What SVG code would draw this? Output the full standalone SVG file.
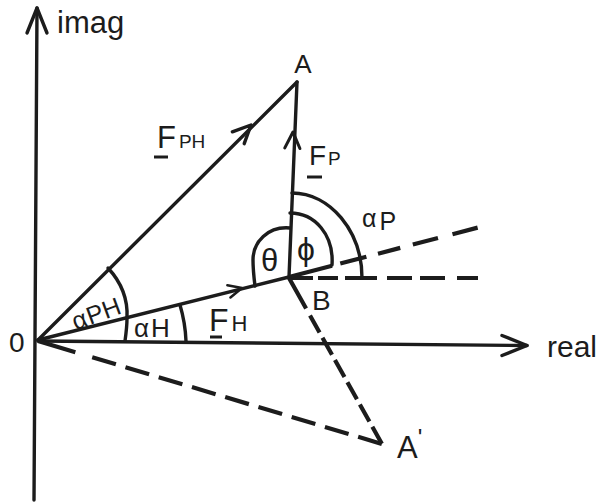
<svg xmlns="http://www.w3.org/2000/svg" width="604" height="502" viewBox="0 0 604 502">
<style>
.ln{fill:none;stroke:#1c1c1c;stroke-width:3.4;stroke-linecap:round;stroke-linejoin:round}
.ds{fill:none;stroke:#1c1c1c;stroke-width:4.2}
.t{font-family:"Liberation Sans",Arial,sans-serif;fill:#1c1c1c}
.ul{stroke:#1c1c1c;stroke-width:3}
</style>
<defs>
<path id="chev" d="M-18,-8.4 L0,0 L-18,8.4" class="ln"/>
<path id="axhead" d="M-25,-10 L0,0 L-25,10" class="ln"/>
</defs>
<rect width="604" height="502" fill="#fff"/>

<g id="axes">
<line class="ln" x1="37" y1="8" x2="34" y2="500"/>
<use href="#axhead" transform="translate(37,8) rotate(-90)"/>
<line class="ln" x1="38" y1="341" x2="527" y2="345.5"/>
<use href="#axhead" transform="translate(527,345.5)"/>
<text class="t" x="57" y="33" font-size="31">imag</text>
<text class="t" x="547" y="357" font-size="30">real</text>
<text class="t" x="9" y="352" font-size="28">0</text>
</g>

<g id="connectors">
<line id="FPH" class="ln" x1="38" y1="340" x2="297" y2="82"/>
<use href="#chev" transform="translate(251,125) rotate(-45)"/>
<line id="FP" class="ln" x1="289" y1="277" x2="297" y2="82"/>
<use href="#chev" transform="translate(293,132) rotate(-87.7) scale(0.9)"/>
<line id="FH" class="ln" x1="38" y1="340" x2="289" y2="277"/>
<use href="#chev" transform="translate(242,288) rotate(-14.1) scale(0.75)"/>
<path class="ds" d="M289,278 L478,278" stroke-dasharray="24 5 20 7 32 10 25 8 25 12 21"/>
<path class="ds" d="M289,277 L478,227.5" stroke-dasharray="44.5 8.5 27 12 23 13 26 15 26"/>
<path class="ds" d="M289,278 L382,444" stroke-dasharray="35 8 19.5 6 19.5 6 19.5 6 19.5 6 19.5 6 19.5"/>
<path class="ds" d="M38,341 L382,444" stroke-dasharray="39 17.6 24.7 10 24.7 10 24.7 10 24.7 10 24.7 10 24.7 10 24.7 10 24.7 10 24.7"/>
</g>

<g id="angles">
<path class="ln" d="M108,268 C121,282 128,300 127,318 C127,327 126,334 125,341"/>
<path class="ln" d="M180,305 A147,147 0 0 1 186,341"/>
<path class="ln" d="M290,228 C268,226 253,242 253,260 C253,270 254,278 255,286"/>
<path class="ln" d="M290,213 C315,213 334,235 332,265"/>
<path class="ln" d="M292,193 C330,193 362,231 362,278"/>
</g>

<g id="labels">
<text class="t" x="303" y="73" font-size="26" text-anchor="middle">A</text>
<text class="t" x="397" y="458" font-size="31">A<tspan dy="-12" font-size="24">'</tspan></text>
<text class="t" x="312" y="310" font-size="28">B</text>
<text class="t" x="157" y="148" font-size="31">F<tspan font-size="19" dx="3">PH</tspan></text>
<line class="ul" x1="154" y1="157" x2="168" y2="157"/>
<text class="t" x="309" y="165" font-size="28">F<tspan font-size="19" dx="2">P</tspan></text>
<line class="ul" x1="307" y1="177" x2="322" y2="177"/>
<text class="t" x="209" y="331" font-size="32">F<tspan font-size="22" dx="3">H</tspan></text>
<line class="ul" x1="210" y1="337" x2="222" y2="337"/>
<text class="t" x="261" y="271" font-size="31">θ</text>
<text class="t" x="306" y="260" font-size="32" text-anchor="middle" font-family="DejaVu Sans, sans-serif">ϕ</text>
<text class="t" x="362" y="227" font-size="25">α<tspan dx="3" dy="3">P</tspan></text>
<text class="t" x="134" y="337" font-size="26">α<tspan dx="2">H</tspan></text>
<text class="t" x="97" y="322" font-size="25" text-anchor="middle" transform="rotate(-20 97 316)">α<tspan dx="1">PH</tspan></text>
</g>
</svg>
